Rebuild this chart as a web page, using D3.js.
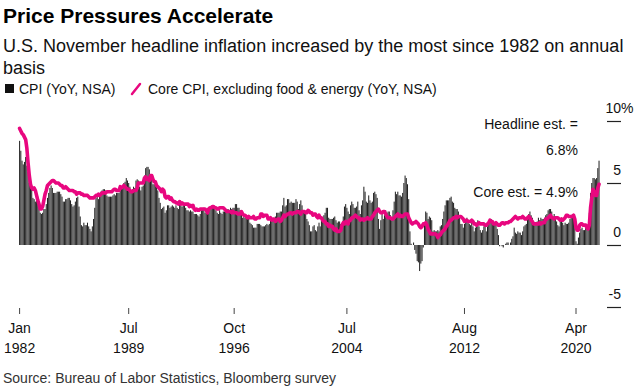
<!DOCTYPE html>
<html><head><meta charset="utf-8">
<script src="https://cdn.jsdelivr.net/npm/d3@7"></script>
<style>
body{margin:0;background:#fff}
svg{display:block}
text{font-family:"Liberation Sans",Arial,sans-serif}
</style>
</head><body><svg id="c" width="640" height="390"></svg>
<script>
// CPI, all items, YoY % (NSA), monthly from Jan 1982 to Nov 2021 (Nov 2021 = estimate)
const cpiYoY = [
8.4,7.6,6.8,6.5,6.7,7.1,6.4,5.9,5.0,5.1,4.6,3.8,
3.7,3.5,3.6,3.9,3.5,2.6,2.5,2.6,2.9,2.9,3.3,3.8,
4.2,4.6,4.8,4.6,4.2,4.2,4.2,4.3,4.3,4.3,4.1,3.9,
3.5,3.5,3.7,3.7,3.8,3.8,3.6,3.3,3.1,3.2,3.5,3.8,
3.9,3.1,2.3,1.6,1.5,1.8,1.6,1.6,1.8,1.5,1.3,1.1,
1.5,2.1,3.0,3.8,3.9,3.7,3.9,4.3,4.4,4.5,4.5,4.4,
4.0,3.9,3.9,3.9,3.9,4.0,4.1,4.0,4.2,4.2,4.2,4.4,
4.7,4.8,5.0,5.1,5.4,5.2,5.0,4.7,4.3,4.5,4.7,4.6,
5.2,5.3,5.2,4.7,4.4,4.7,4.8,5.6,6.2,6.3,6.3,6.1,
5.7,5.3,4.9,4.9,5.0,4.7,4.4,3.8,3.4,2.9,3.0,3.1,
2.6,2.8,3.2,3.2,3.0,3.1,3.2,3.1,3.0,3.2,3.0,2.9,
3.3,3.2,3.1,3.2,3.2,3.0,2.8,2.8,2.7,2.8,2.7,2.7,
2.5,2.5,2.5,2.4,2.3,2.5,2.8,2.9,3.0,2.6,2.7,2.7,
2.8,2.9,2.9,3.1,3.2,3.0,2.8,2.6,2.5,2.8,2.6,2.5,
2.7,2.7,2.8,2.9,2.9,2.8,3.0,2.9,3.0,3.0,3.3,3.3,
3.0,3.0,2.8,2.5,2.2,2.3,2.2,2.2,2.2,2.1,1.8,1.7,
1.6,1.4,1.4,1.4,1.7,1.7,1.7,1.6,1.5,1.5,1.5,1.6,
1.7,1.6,1.7,2.3,2.1,2.0,2.1,2.3,2.6,2.6,2.6,2.7,
2.7,3.2,3.8,3.1,3.2,3.7,3.7,3.4,3.5,3.4,3.4,3.4,
3.7,3.5,2.9,3.3,3.6,3.2,2.7,2.7,2.6,2.1,1.9,1.6,
1.1,1.1,1.5,1.6,1.2,1.1,1.5,1.8,1.5,2.0,2.2,2.4,
2.6,3.0,3.0,2.2,2.1,2.1,2.1,2.2,2.3,2.0,1.8,1.9,
1.9,1.7,1.7,2.3,3.1,3.3,3.0,2.7,2.5,3.2,3.5,3.3,
3.0,3.0,3.1,3.5,2.8,2.5,3.2,3.6,4.7,4.3,3.5,3.4,
4.0,3.6,3.4,3.5,4.2,4.3,4.1,3.8,2.1,1.3,2.0,2.5,
2.1,2.4,2.8,2.6,2.7,2.7,2.4,2.0,2.8,3.5,4.3,4.1,
4.3,4.0,4.0,3.9,4.2,5.0,5.6,5.4,4.9,3.7,1.1,0.1,
0.0,0.2,-0.4,-0.7,-1.3,-1.4,-2.1,-1.5,-1.3,-0.2,1.8,2.7,
2.6,2.1,2.3,2.2,2.0,1.1,1.2,1.1,1.1,1.2,1.1,1.5,
1.6,2.1,2.7,3.2,3.6,3.6,3.6,3.8,3.9,3.5,3.4,3.0,
2.9,2.9,2.7,2.3,1.7,1.7,1.4,1.7,2.0,2.2,1.8,1.7,
1.6,2.0,1.5,1.1,1.4,1.8,2.0,1.5,1.2,1.0,1.2,1.5,
1.6,1.1,1.5,2.0,2.1,2.1,2.0,1.7,1.7,1.7,1.3,0.8,
-0.1,0.0,-0.1,-0.2,0.0,0.1,0.2,0.2,0.0,0.2,0.5,0.7,
1.4,1.0,0.9,1.1,1.0,1.0,0.8,1.1,1.5,1.6,1.7,2.1,
2.5,2.7,2.4,2.2,1.9,1.6,1.7,1.9,2.2,2.0,2.2,2.1,
2.1,2.2,2.4,2.5,2.8,2.9,2.9,2.7,2.3,2.5,2.2,1.9,
1.6,1.5,1.9,2.0,1.8,1.6,1.8,1.7,1.7,1.8,2.1,2.3,
2.5,2.3,1.5,0.3,0.1,0.6,1.0,1.3,1.4,1.2,1.2,1.4,
1.4,1.7,2.6,4.2,5.0,5.4,5.4,5.3,5.4,6.2,6.8
];

// Core CPI excluding food & energy, YoY % (NSA), same months
const coreYoY = [
9.4,9.2,9.0,8.9,8.7,8.5,7.8,6.6,5.6,4.9,4.6,4.5,
4.6,4.4,4.0,3.6,3.3,2.9,2.9,3.1,3.6,4.1,4.4,4.8,
4.9,5.0,5.1,5.2,5.2,5.1,5.0,5.0,5.0,4.9,4.8,4.8,
4.6,4.6,4.7,4.6,4.5,4.4,4.4,4.4,4.4,4.3,4.3,4.1,
4.2,4.2,4.2,4.1,4.1,4.0,4.0,4.0,4.0,3.9,3.8,3.8,
3.8,3.8,3.9,4.0,4.0,4.1,4.0,4.1,4.2,4.2,4.2,4.2,
4.3,4.3,4.3,4.3,4.3,4.4,4.5,4.5,4.4,4.4,4.4,4.7,
4.6,4.7,4.8,4.7,4.6,4.5,4.5,4.4,4.3,4.3,4.4,4.4,
4.4,4.6,5.0,5.0,5.0,5.0,5.0,5.4,5.5,5.3,5.4,5.2,
5.6,5.6,5.3,5.1,5.1,4.8,4.7,4.6,4.5,4.3,4.5,4.4,
3.9,3.8,3.9,3.9,3.7,3.8,3.6,3.5,3.5,3.4,3.4,3.3,
3.5,3.3,3.4,3.3,3.3,3.3,3.3,3.3,3.1,3.2,3.1,3.2,
2.9,2.8,2.9,2.8,2.8,2.9,2.9,2.9,2.9,2.9,2.8,2.6,
2.9,3.0,3.0,3.1,3.1,3.0,3.0,2.9,2.9,3.0,3.0,3.0,
3.0,2.9,2.8,2.7,2.7,2.7,2.7,2.6,2.7,2.6,2.6,2.6,
2.5,2.5,2.5,2.7,2.5,2.4,2.4,2.3,2.2,2.3,2.2,2.2,
2.2,2.3,2.1,2.1,2.2,2.2,2.2,2.5,2.5,2.3,2.4,2.4,
2.4,2.1,2.1,2.2,2.0,2.1,2.1,1.9,2.0,2.1,2.1,1.9,
2.0,2.2,2.4,2.3,2.4,2.5,2.5,2.6,2.6,2.5,2.6,2.6,
2.6,2.7,2.7,2.6,2.5,2.7,2.7,2.7,2.6,2.6,2.8,2.7,
2.6,2.6,2.4,2.5,2.5,2.3,2.2,2.4,2.2,2.2,2.0,1.9,
1.9,1.7,1.7,1.5,1.6,1.5,1.5,1.3,1.2,1.3,1.1,1.1,
1.1,1.2,1.6,1.8,1.7,1.9,1.8,1.7,2.0,2.0,2.2,2.2,
2.3,2.4,2.3,2.2,2.2,2.0,2.1,2.1,2.0,2.1,2.1,2.2,
2.1,2.1,2.1,2.3,2.4,2.6,2.7,2.8,2.9,2.7,2.6,2.6,
2.7,2.7,2.5,2.3,2.2,2.2,2.2,2.1,2.1,2.2,2.3,2.4,
2.5,2.3,2.4,2.3,2.3,2.4,2.5,2.5,2.5,2.2,2.0,1.8,
1.7,1.8,1.8,1.9,1.8,1.7,1.5,1.4,1.5,1.7,1.7,1.8,
1.6,1.3,1.1,0.9,0.9,0.9,0.9,0.9,0.8,0.6,0.8,0.8,
1.0,1.1,1.2,1.3,1.5,1.6,1.8,2.0,2.0,2.1,2.2,2.2,
2.3,2.2,2.3,2.3,2.3,2.2,2.1,1.9,2.0,2.0,1.9,1.9,
1.9,2.0,1.9,1.7,1.7,1.6,1.7,1.8,1.7,1.7,1.7,1.7,
1.6,1.6,1.7,1.8,2.0,1.9,1.9,1.7,1.7,1.8,1.7,1.6,
1.6,1.7,1.8,1.8,1.7,1.8,1.8,1.8,1.9,1.9,2.0,2.1,
2.2,2.3,2.2,2.1,2.2,2.2,2.2,2.3,2.2,2.1,2.1,2.2,
2.3,2.2,2.0,1.9,1.7,1.7,1.7,1.7,1.7,1.8,1.7,1.8,
1.8,1.8,2.1,2.1,2.2,2.3,2.4,2.2,2.2,2.1,2.2,2.2,
2.2,2.1,2.0,2.1,2.0,2.1,2.2,2.4,2.4,2.3,2.3,2.3,
2.3,2.4,2.1,1.4,1.2,1.2,1.6,1.7,1.7,1.6,1.6,1.6,
1.4,1.3,1.6,3.0,3.8,4.5,4.3,4.0,4.0,4.6,4.9
];

const startYear = 1982;
const monthNames = ["Jan","Feb","Mar","Apr","May","Jun","Jul","Aug","Sep","Oct","Nov","Dec"];
const xTicks = ["Jan 1982","Jul 1989","Oct 1996","Jul 2004","Aug 2012","Apr 2020"];
const yTicks = [-5, 0, 5, 10];
const titleText = "Price Pressures Accelerate";
const subtitleLines = ["U.S. November headline inflation increased by the most since 1982 on annual", "basis"];
const legendItems = ["CPI (YoY, NSA)", "Core CPI, excluding food & energy (YoY, NSA)"];
const notes = ["Headline est. =", "6.8%", "Core est. = 4.9%"];
const sourceText = "Source: Bureau of Labor Statistics, Bloomberg survey";

const months = cpiYoY.map((_, i) => monthNames[i % 12] + " " + (startYear + Math.floor(i / 12)));

const PINK = "#e8077f";
const BAR = "#222222";
const FONT = '"Liberation Sans",Arial,sans-serif';
const svg = d3.select("#c");
svg.append("rect").attr("width", 640).attr("height", 390).attr("fill", "#fff");

// scales
const firstX = 19.6, tickLastX = 576; // Jan 1982 .. Apr 2020
const step = (tickLastX - firstX) / months.indexOf("Apr 2020");
const x = d3.scaleBand().domain(months)
  .range([firstX - step / 2, firstX + (months.length - 0.5) * step])
  .paddingInner(0.16).paddingOuter(0.08);
const y = d3.scaleLinear().domain([-5, 10]).range([307, 121]);
const cx = m => x(m) + x.bandwidth() / 2;

// bars
svg.append("g").selectAll("rect").data(months).join("rect")
  .attr("x", m => x(m))
  .attr("width", x.bandwidth())
  .attr("y", (m, i) => y(Math.max(0, cpiYoY[i])))
  .attr("height", (m, i) => Math.abs(y(cpiYoY[i]) - y(0)))
  .attr("fill", BAR);

// core line
svg.append("path")
  .datum(months)
  .attr("fill", "none")
  .attr("stroke", PINK)
  .attr("stroke-width", 3.6)
  .attr("stroke-linejoin", "round")
  .attr("stroke-linecap", "round")
  .attr("d", d3.line().x(m => cx(m)).y((m, i) => y(coreYoY[i])));

// y axis (right)
const ya = svg.append("g").attr("transform", "translate(607,0)")
  .call(d3.axisRight(y).tickValues(yTicks).tickSize(14).tickFormat(d => d));
ya.select(".domain").remove();
ya.selectAll(".tick line").attr("stroke", "#222").attr("stroke-width", 1.2);
ya.selectAll(".tick text")
  .attr("x", 14).attr("dy", -9).attr("text-anchor", "end")
  .attr("fill", "#111").attr("font-size", 14)
  .style("font-family", FONT);
ya.selectAll(".tick").filter(d => d === 10).append("text")
  .attr("x", 14).attr("dy", -9).attr("fill", "#111").attr("font-size", 14)
  .style("font-family", FONT)
  .text("%");

// x axis
const xa = svg.append("g").attr("transform", "translate(0,308)")
  .call(d3.axisBottom(x).tickValues(xTicks).tickSize(6).tickFormat(""));
xa.select(".domain").remove();
xa.selectAll(".tick line").attr("stroke", "#444");
xa.selectAll(".tick").each(function (d) {
  const [mo, yr] = d.split(" ");
  const t = d3.select(this).append("text")
    .attr("text-anchor", "middle").attr("fill", "#111").attr("font-size", 14)
    .style("font-family", FONT);
  t.append("tspan").attr("x", 0).attr("y", 25).text(mo);
  t.append("tspan").attr("x", 0).attr("y", 45).text(yr);
});

// title / subtitle
svg.append("text").attr("x", 3).attr("y", 23).attr("font-size", 21).attr("font-weight", "bold")
  .attr("fill", "#000").text(titleText);
subtitleLines.forEach((s, i) => {
  svg.append("text").attr("x", 3).attr("y", 52 + i * 22).attr("font-size", 18)
    .attr("fill", "#111").text(s);
});

// legend
svg.append("rect").attr("x", 5).attr("y", 84).attr("width", 9).attr("height", 9).attr("fill", "#111");
svg.append("text").attr("x", 19).attr("y", 94).attr("font-size", 14).attr("fill", "#111").text(legendItems[0]);
svg.append("line").attr("x1", 132).attr("y1", 94).attr("x2", 140).attr("y2", 84)
  .attr("stroke", PINK).attr("stroke-width", 2.5).attr("stroke-linecap", "round");
svg.append("text").attr("x", 148).attr("y", 94).attr("font-size", 14).attr("fill", "#111").text(legendItems[1]);

// annotations
[[notes[0], 129], [notes[1], 155], [notes[2], 197]].forEach(([t, yy]) => {
  svg.append("text").attr("x", 578).attr("y", yy).attr("text-anchor", "end")
    .attr("font-size", 14).attr("fill", "#111").text(t);
});

// source
svg.append("text").attr("x", 3).attr("y", 383).attr("font-size", 14).attr("fill", "#333").text(sourceText);
</script>
</body></html>
